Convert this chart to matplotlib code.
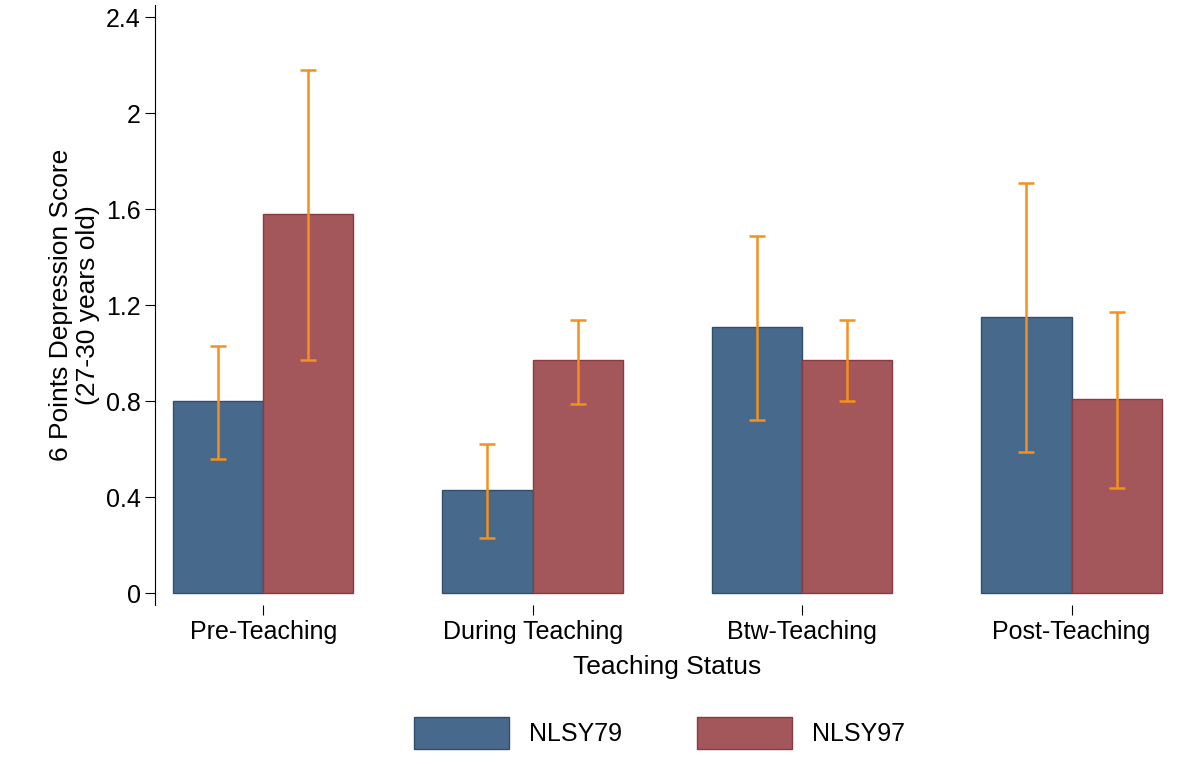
import matplotlib.pyplot as plt
import numpy as np

plt.rcParams['font.family'] = ['Liberation Sans', 'DejaVu Sans']

categories = ['Pre-Teaching', 'During Teaching', 'Btw-Teaching', 'Post-Teaching']
nlsy79 = [0.80, 0.43, 1.11, 1.15]
nlsy79_lo = [0.56, 0.23, 0.72, 0.59]
nlsy79_hi = [1.03, 0.62, 1.49, 1.71]
nlsy97 = [1.58, 0.97, 0.97, 0.81]
nlsy97_lo = [0.97, 0.79, 0.80, 0.44]
nlsy97_hi = [2.18, 1.14, 1.14, 1.17]

fig = plt.figure(figsize=(11.77, 7.64), dpi=100)
ax = fig.add_axes([0.132, 0.208, 0.87, 0.785])

x = np.arange(len(categories))
w = 0.335
blue = '#46698c'
red = '#a4575b'
orange = '#f5901e'

ax.bar(x - w/2, nlsy79, w, color=blue, edgecolor='#2f4f6f', linewidth=1, label='NLSY79')
ax.bar(x + w/2, nlsy97, w, color=red, edgecolor='#8a3a40', linewidth=1, label='NLSY97')
ax.errorbar(x - w/2, nlsy79, yerr=[np.subtract(nlsy79, nlsy79_lo), np.subtract(nlsy79_hi, nlsy79)],
            fmt='none', ecolor=orange, elinewidth=1.8, capsize=6, capthick=1.8)
ax.errorbar(x + w/2, nlsy97, yerr=[np.subtract(nlsy97, nlsy97_lo), np.subtract(nlsy97_hi, nlsy97)],
            fmt='none', ecolor=orange, elinewidth=1.8, capsize=6, capthick=1.8)

ax.set_xlim(-0.4, 3.4)
ax.set_ylim(-0.05, 2.45)
ax.set_yticks([0, 0.4, 0.8, 1.2, 1.6, 2, 2.4])
ax.set_yticklabels(['0', '0.4', '0.8', '1.2', '1.6', '2', '2.4'])
ax.set_xticks(x)
ax.set_xticklabels(categories)
ax.tick_params(labelsize=18, length=7)
for s in ['top', 'right', 'bottom']:
    ax.spines[s].set_visible(False)
ax.set_xlabel('Teaching Status', fontsize=19, labelpad=8)
ax.set_ylabel('6 Points Depression Score\n(27-30 years old)', fontsize=19)

fig.legend(loc='lower center', bbox_to_anchor=(0.56, -0.01), ncol=2, frameon=False,
           fontsize=18, handlelength=3.8, handleheight=1.6, columnspacing=3)

fig.savefig('out.png', dpi=100)
